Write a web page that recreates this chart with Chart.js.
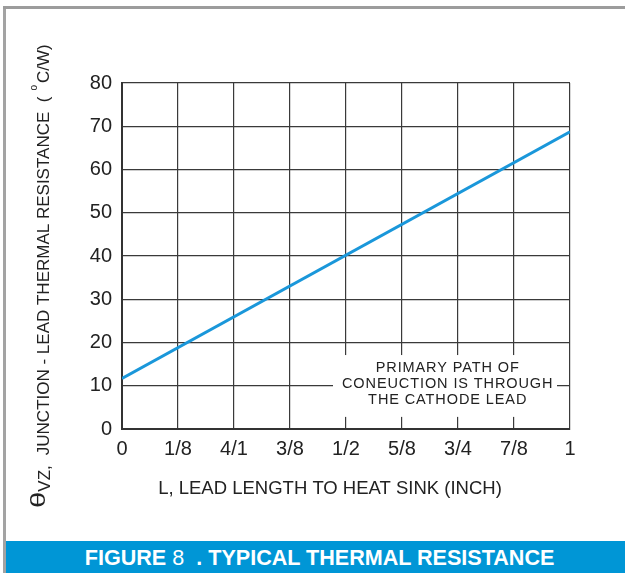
<!DOCTYPE html>
<html>
<head>
<meta charset="utf-8">
<script src="https://cdn.jsdelivr.net/npm/chart.js@4"></script>
<style>
  body { margin: 0; background: #fff; }
  #wrap { position: relative; width: 625px; height: 573px; overflow: hidden; }
  #leftBar { position: absolute; left: 3px; top: 6px; width: 3px; height: 567px; background: #a3a3a3; }
  #topBar { position: absolute; left: 3px; top: 6px; width: 622px; height: 3px; background: #9c9c9c; }
  #banner { position: absolute; left: 6px; top: 541px; width: 619px; height: 32px; background: #0096d6;
            color: #fff; font-family: "Liberation Sans", Arial, sans-serif; font-size: 22px; font-weight: bold;
            line-height: 33px; text-align: center; }
  #banner span.t { display: inline-block; transform: scaleX(0.98); white-space: pre; margin-left: 8px; }
  #banner span.n { font-weight: normal; }
  canvas { position: absolute; left: 0; top: 0; }
</style>
</head>
<body>
<div id="wrap">
  <canvas id="myChart" width="625" height="541"></canvas>
  <div id="leftBar"></div>
  <div id="topBar"></div>
  <div id="banner"><span class="t">FIGURE <span class="n">8</span>  . TYPICAL THERMAL RESISTANCE</span></div>
</div>
<script>
let leadLength = [0, 1];
let thermalRes = [11.7, 68.7];
let xTickLabels = ["0", "1/8", "4/1", "3/8", "1/2", "5/8", "3/4", "7/8", "1"];
let noteLines = ["PRIMARY PATH OF", "CONEUCTION IS THROUGH", "THE CATHODE LEAD"];
let xTitle = "L, LEAD LENGTH TO HEAT SINK (INCH)";

let fontFam = '"Liberation Sans", Arial, sans-serif';

// note box + axis titles drawn by hand
let extras = {
    id: 'extras',
    beforeDatasetsDraw(chart) {
        let ctx = chart.ctx;
        let xs = chart.scales.x, ys = chart.scales.y;
        let l = xs.getPixelForValue(0.471), r = xs.getPixelForValue(0.971);
        let t = ys.getPixelForValue(17.1), b = ys.getPixelForValue(2.8);
        ctx.save();
        ctx.fillStyle = '#fff';
        ctx.fillRect(l, t, r - l, b - t);
        ctx.fillStyle = '#222';
        ctx.font = '14.5px ' + fontFam;
        ctx.letterSpacing = '0.9px';
        ctx.textAlign = 'center';
        ctx.textBaseline = 'middle';
        let cx = xs.getPixelForValue(0.727);
        let mid = ys.getPixelForValue(10) - 2;
        noteLines.forEach((s, i) => ctx.fillText(s, cx, mid + (i - 1) * 16));
        ctx.restore();
    },
    afterDraw(chart) {
        let ctx = chart.ctx;
        let a = chart.chartArea;
        ctx.save();
        ctx.fillStyle = '#222';
        ctx.textBaseline = 'middle';
        ctx.textAlign = 'center';
        ctx.font = '18.5px ' + fontFam;
        ctx.fillText(xTitle, a.left + 208, a.bottom + 60);

        // rotated y title with theta, subscript and degree sign
        ctx.translate(49, 508);
        ctx.rotate(-Math.PI / 2);
        ctx.textAlign = 'left';
        ctx.textBaseline = 'alphabetic';
        let x = 0;
        ctx.save();
        ctx.font = '21px ' + fontFam;
        ctx.scale(1.4, 1);
        ctx.fillText('\u03b8', 0, -4);
        x += ctx.measureText('\u03b8').width * 1.4;
        ctx.restore();
        ctx.font = '17px ' + fontFam;
        ctx.fillText('VZ,', x, 1);
        x += ctx.measureText('VZ,').width + 10;
        let main = 'JUNCTION - LEAD THERMAL RESISTANCE  (';
        ctx.fillText(main, x, 0);
        x += ctx.measureText(main).width + 6;
        ctx.font = '10px ' + fontFam;
        ctx.fillText('o', x, -12);
        x += ctx.measureText('o').width + 2;
        ctx.font = '17px ' + fontFam;
        ctx.fillText('C/W)', x, 0);
        ctx.restore();
    }
};

let myChart = document.getElementById("myChart").getContext('2d');

let chart = new Chart(myChart, {
    type: 'line',
    data: {
        datasets: [{
            data: leadLength.map((v, i) => ({ x: v, y: thermalRes[i] })),
            borderColor: '#1a97da',
            borderWidth: 3,
            pointRadius: 0,
            fill: false
        }]
    },
    options: {
        responsive: false,
        animation: false,
        layout: { padding: { top: 83, right: 55, left: 0, bottom: 0 } },
        plugins: { legend: { display: false }, tooltip: { enabled: false } },
        scales: {
            x: {
                type: 'linear', min: 0, max: 1,
                afterFit: s => { s.height = 112; },
                ticks: {
                    stepSize: 0.125, autoSkip: false, maxRotation: 0,
                    callback: (v, i) => xTickLabels[i],
                    color: '#222', font: { family: fontFam, size: 20 }, padding: 8
                },
                grid: { color: '#3a3a3a', lineWidth: 1.2, drawTicks: false },
                border: { color: '#333', width: 2 }
            },
            y: {
                min: 0, max: 80,
                afterFit: s => { s.width = 122; },
                ticks: {
                    stepSize: 10,
                    color: '#222', font: { family: fontFam, size: 20 }, padding: 10
                },
                grid: { color: '#3a3a3a', lineWidth: 1.2, drawTicks: false },
                border: { color: '#333', width: 2 }
            }
        }
    },
    plugins: [extras]
});
</script>
</body>
</html>
